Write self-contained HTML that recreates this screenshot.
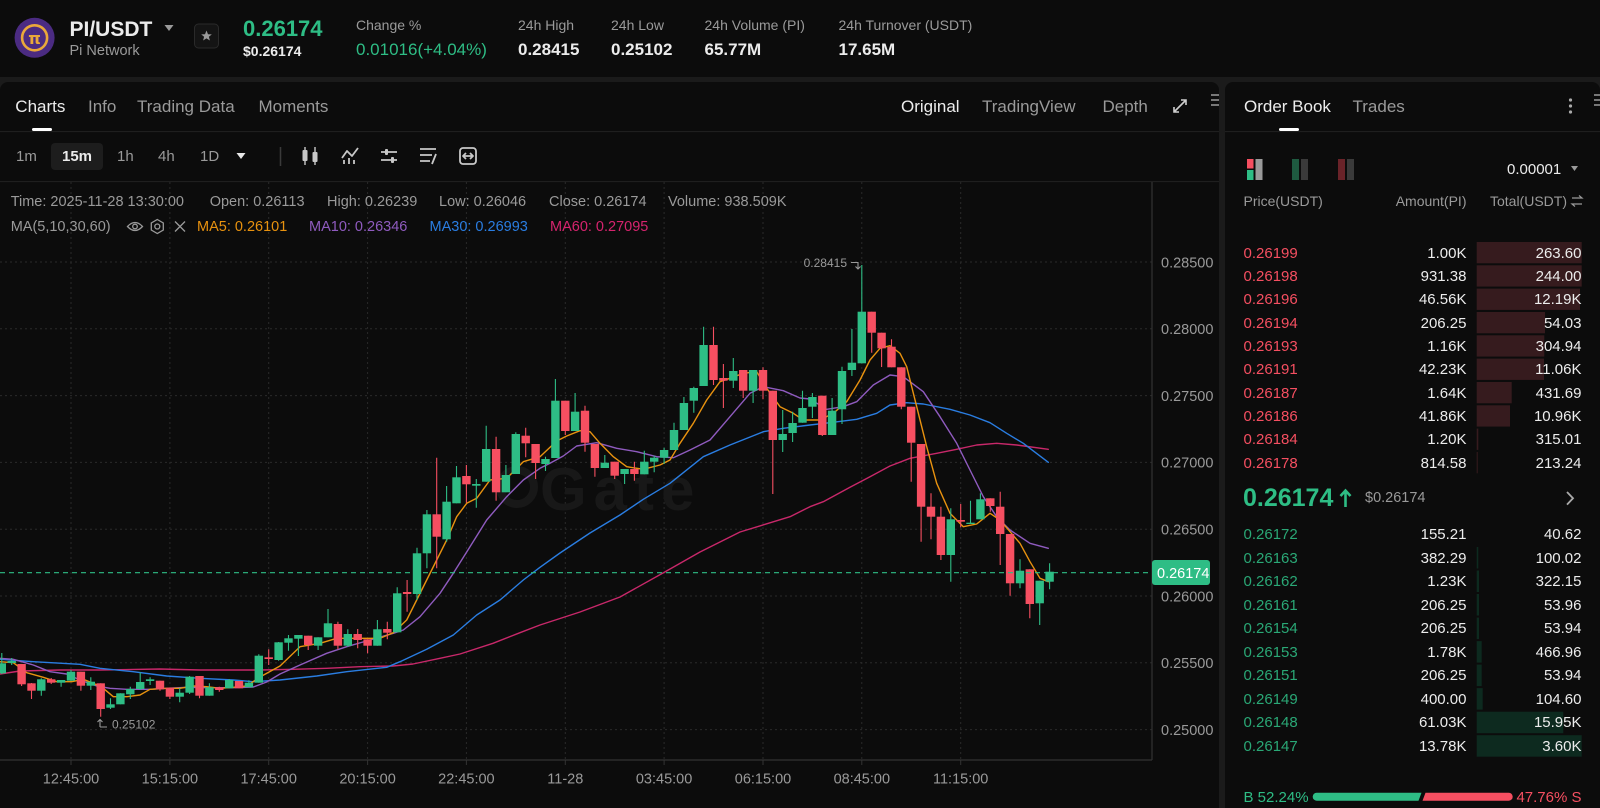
<!DOCTYPE html>
<html><head><meta charset="utf-8">
<style>
*{margin:0;padding:0;box-sizing:border-box}
body{width:1600px;height:808px;background:#1b1b1b;overflow:hidden;position:relative;font-family:"Liberation Sans",sans-serif;color:#e8e8e8}
.p{position:absolute;background:#0c0c0c}
.t{position:absolute;white-space:nowrap;line-height:1}
.g{color:#9a9a9a}
.w{color:#ececec}
.gr{color:#2ebd85}
.rd{color:#f64f61}
.b{font-weight:bold}
</style></head><body>
<div class="p" style="left:0;top:0;width:1600px;height:77px"></div>
<div class="p" style="left:0;top:82px;width:1219px;height:726px;border-radius:8px 8px 0 0"></div>
<div class="p" style="left:1225px;top:82px;width:375px;height:726px;border-radius:8px 8px 0 0"></div>

<svg width="1600" height="808" style="position:absolute;left:0;top:0">
<defs><clipPath id="cc"><rect x="0" y="182" width="1152" height="578"/></clipPath></defs>
<circle cx="34.6" cy="37.8" r="20" fill="#4b2b82"/>
<circle cx="34.6" cy="37.8" r="12.5" fill="none" stroke="#eaa83a" stroke-width="2.6"/>
<text x="34.6" y="44" text-anchor="middle" font-family="DejaVu Sans,sans-serif" font-weight="bold" font-size="16" fill="#eaa83a">π</text>
<path d="M164.5 25 L173.5 25 L169 31 Z" fill="#9a9a9a"/>
<rect x="194.5" y="24" width="24" height="24" rx="4" fill="#141414" stroke="#2a2a2a"/>
<path d="M206.5 30.5 L208 34.2 L211.8 34.4 L208.9 36.8 L209.9 40.5 L206.5 38.4 L203.1 40.5 L204.1 36.8 L201.2 34.4 L205 34.2 Z" fill="#9a9a9a"/>
<line x1="0" y1="131.6" x2="1219" y2="131.6" stroke="#222" stroke-width="1"/>
<line x1="1225" y1="131.6" x2="1600" y2="131.6" stroke="#222" stroke-width="1"/>
<line x1="0" y1="181.6" x2="1219" y2="181.6" stroke="#222" stroke-width="1"/>
<rect x="32" y="128" width="20" height="3" rx="1.5" fill="#fff"/>
<rect x="1279" y="128" width="20" height="3" rx="1.5" fill="#fff"/>
<g stroke="#cfcfcf" stroke-width="1.6" fill="none">
<path d="M1174 112 L1186 100 M1181 100 H1186 V105 M1174 107 V112 H1179"/>
</g>
<g fill="#777"><rect x="1211" y="94" width="8" height="2"/><rect x="1211" y="99" width="8" height="2"/><rect x="1211" y="104" width="8" height="2"/>
<rect x="1594" y="94" width="6" height="2"/><rect x="1594" y="99" width="6" height="2"/><rect x="1594" y="104" width="6" height="2"/></g>
<g fill="#aaa"><circle cx="1570.5" cy="100" r="1.6"/><circle cx="1570.5" cy="106" r="1.6"/><circle cx="1570.5" cy="112" r="1.6"/></g>
<rect x="51" y="143" width="52" height="27" rx="4" fill="#1d1d1d"/>
<path d="M236.5 153 L245.5 153 L241 159 Z" fill="#e8e8e8"/>
<line x1="280.5" y1="147" x2="280.5" y2="166" stroke="#3a3a3a" stroke-width="1.5"/>
<g fill="#c8c8c8" stroke="#c8c8c8">
<line x1="305" y1="147" x2="305" y2="165" stroke-width="1.4"/><rect x="302.5" y="150" width="5" height="11" rx="1" stroke="none"/>
<line x1="315" y1="147" x2="315" y2="165" stroke-width="1.4"/><rect x="312.5" y="152" width="5" height="10" rx="1" stroke="none"/>
</g>
<g stroke="#c8c8c8" stroke-width="1.8" fill="none" stroke-linejoin="round">
<path d="M342 158 L347 151 L352 156 L358 148"/>
<path d="M344 164 V160 M349 164 V158 M354 164 V160"/>
<path d="M381 152 H397 M381 160 H397"/>
<path d="M420 149 H436 M420 155 H432 M420 161 H430 M436 154 L432 164"/>
<rect x="460" y="148" width="16" height="16" rx="3"/>
<path d="M464 156 H472 M466 153 L463 156 L466 159 M470 153 L473 156 L470 159"/>
</g>
<g fill="#c8c8c8"><rect x="385" y="149" width="3" height="6" rx="1"/><rect x="391" y="157" width="3" height="6" rx="1"/></g>
<g stroke="#9a9a9a" stroke-width="1.3" fill="none">
<path d="M127.5 226.5 Q135 218.5 142.5 226.5 Q135 234.5 127.5 226.5 Z"/><circle cx="135" cy="226.5" r="2.3"/>
<path d="M157.3 219.5 L163.3 223 L163.3 230 L157.3 233.5 L151.3 230 L151.3 223 Z"/><circle cx="157.3" cy="226.5" r="2.5"/>
<path d="M175 221.5 L185 231.5 M185 221.5 L175 231.5"/>
</g>

<g stroke="#2a2a2a" stroke-width="1" stroke-dasharray="2 3">
<line x1="0" y1="262" x2="1152" y2="262"/><line x1="0" y1="328.8" x2="1152" y2="328.8"/>
<line x1="0" y1="395.6" x2="1152" y2="395.6"/><line x1="0" y1="462.4" x2="1152" y2="462.4"/>
<line x1="0" y1="529.2" x2="1152" y2="529.2"/><line x1="0" y1="596" x2="1152" y2="596"/>
<line x1="0" y1="662.8" x2="1152" y2="662.8"/><line x1="0" y1="729.6" x2="1152" y2="729.6"/>
<line x1="71" y1="182" x2="71" y2="760"/><line x1="169.9" y1="182" x2="169.9" y2="760"/>
<line x1="268.7" y1="182" x2="268.7" y2="760"/><line x1="367.6" y1="182" x2="367.6" y2="760"/>
<line x1="466.4" y1="182" x2="466.4" y2="760"/><line x1="565.3" y1="182" x2="565.3" y2="760"/>
<line x1="664.1" y1="182" x2="664.1" y2="760"/><line x1="763" y1="182" x2="763" y2="760"/>
<line x1="861.8" y1="182" x2="861.8" y2="760"/><line x1="960.7" y1="182" x2="960.7" y2="760"/>
</g>
<line x1="1152" y1="182" x2="1152" y2="760" stroke="#333" stroke-width="1.2"/>
<line x1="0" y1="760" x2="1152" y2="760" stroke="#333" stroke-width="1.2"/>
<g stroke="#333" stroke-width="1">
<line x1="71" y1="760" x2="71" y2="765"/><line x1="169.9" y1="760" x2="169.9" y2="765"/><line x1="268.7" y1="760" x2="268.7" y2="765"/><line x1="367.6" y1="760" x2="367.6" y2="765"/><line x1="466.4" y1="760" x2="466.4" y2="765"/><line x1="565.3" y1="760" x2="565.3" y2="765"/><line x1="664.1" y1="760" x2="664.1" y2="765"/><line x1="763" y1="760" x2="763" y2="765"/><line x1="861.8" y1="760" x2="861.8" y2="765"/><line x1="960.7" y1="760" x2="960.7" y2="765"/>
</g>
<circle cx="517" cy="487" r="17" fill="none" stroke="#181818" stroke-width="8"/>
<text x="540" y="510" font-family="Liberation Sans,sans-serif" font-weight="bold" font-size="60" letter-spacing="7" fill="#181818">Gate</text>

<g clip-path="url(#cc)">
<g fill="none" stroke-width="1.4" stroke-linejoin="round" stroke-linecap="round">
<polyline stroke="#c8286a" points="0,674 20,671 60,670 100,670 160,669 200,670 260,670 293,669.3 326.7,668.3 360,666.7 393,666 413,664 440,658.3 460,654 493,643.3 520,632.7 540,625 580,612 620,597 663,573 700,552 740,532 790,516.7 810,506.7 823.3,501.7 850,487.3 870,476.7 890,466 910,458.3 936.7,453.3 956.7,449.3 976.7,445 996.7,443.3 1016.7,445 1048.3,449.3"/>
<polyline stroke="#2a7de1" points="0,659.3 33.3,661.7 80,664.3 100,668.3 133.3,671.7 166.7,676 200,678.3 233.3,680 253.3,681.7 280,680 316.7,676 346.7,671.7 386.7,667.3 400,661.7 426.7,649.3 453.3,635 476.7,615 500,600 523.3,580 540,567.3 560,553 590,533 620,515 643.3,499.3 670,483.3 703.3,456.7 730,445 763.3,431.7 783.3,428.3 810,425 830,422.7 856.7,419.3 876.7,413.3 890,405 906.7,402.7 923.3,404 950,409.3 970,415 990,422.7 1006.7,433.3 1023.3,443.3 1048.3,462.3"/>
<polyline stroke="#8f5bbf" points="0,658.3 13.3,659.3 33.3,665 50,671.7 66.7,674 80,680 96.7,686 110,688.3 126.7,689.3 150,689.3 166.7,688.3 186.7,687.3 206.7,687.7 233.3,687.7 253.3,687 266.7,682 280,674 300,665 326.7,653.3 346.7,646.7 370,640 393.3,633.3 403.3,630 420,616.7 440,593.3 453.3,573.3 470,546.7 486.7,520 506.7,496.7 523.3,480 540,468.3 550,463.3 563.3,456 576.7,446 596.7,442.7 616.7,448.3 636.7,451.7 656.7,456.7 673.3,457.7 690,450 710,440 730,416.7 750,393.3 763.3,386.7 783.3,390.7 800,398 810,399 826.7,409.3 843.3,406.7 856.7,401.7 873.3,385 890,375 903.3,376.7 923.3,391.7 940,416.7 956.7,443.3 970,470 983.3,496.7 996.7,516.7 1010,530 1030,543.3 1048.3,548.3"/>
<polyline stroke="#e8920f" points="0,661.7 13.3,662.7 26.7,672.7 43.3,677.3 56.7,681.7 71.7,681.7 83.3,679.3 93.3,683.3 103.3,688.3 113.3,696.7 126.7,696.7 140,695 150,689.3 166.7,688.3 180,688.3 193.3,686 206.7,686.7 220,688.3 233.3,687.3 246.7,686 260,677 280,666 300,646.7 320,643.3 336.7,638.3 360,638.3 380,638.3 393.3,632.7 406.7,620 416.7,600 426.7,580 436.7,560 446.7,540 456.7,516.7 466.7,503.3 476.7,498.3 490,480 506.7,478.3 523.3,461.7 540,456.7 556.7,441 566.7,436 580,430.7 590,431.7 600,443.3 613.3,456.7 626.7,466.7 643.3,469.3 660,465 670,460 680,443.3 693.3,423.3 706.7,400 720,381.7 730,378.3 743.3,373.3 756.7,371.7 766.7,388.3 780,406.7 793.3,413.3 803.3,420 820,420 833.3,413.3 846.7,401.7 860,380 870,360 880,348.3 890,345.7 900,353.3 906.7,366.7 916.7,406.7 926.7,446.7 936.7,483.3 950,513.3 963.3,526.7 976.7,524 990,513.3 1000,520 1010,531.7 1020,543.3 1030,561.7 1040,578.3 1048.3,581.7"/>
</g>
<path stroke="#2ebd85" stroke-width="1.1" fill="none" d="M1.8 653V674M11.7 658V665M41.3 678.3V695.7M61.1 680V686.7M71 670V681M90.8 677.3V690M110.5 698.3V709M120.4 693.3V704.3M130.3 686.7V699M140.2 672.3V690M150.1 677.3V685M179.7 688.3V702.3M189.6 676V694M209.4 683.3V695.7M229.2 679V688.3M248.9 680.3V687.3M258.8 654.3V682.7M278.6 642V660.7M288.5 635V650.7M298.4 635V656M318.1 637.3V650M328 609V637.3M347.8 629.3V646.7M377.4 620V645.7M397.2 587.3V632.3M417 547.7V600M426.9 510V568.3M446.6 486V541.7M456.5 466V503.3M476.3 479V507.7M486.2 425.7V481.7M505.9 465V492.3M515.8 432.3V474M545.5 456.7V471M555.4 379V458M575.1 393V431M604.8 455V468M624.6 469V484M644.3 450.7V474.3M654.2 455.7V472.3M664.1 447.7V464M674 422.7V450M683.9 397V430M693.8 386.7V412.7M703.6 326.7V386M733.3 358V388M753.1 370V403M782.7 410V452M792.6 411.7V442M802.5 390.7V422.7M812.4 393V418M832.1 398V435M842 366.7V424M851.9 329V376M861.8 265V363.3M950.8 508.3V581.7M970.5 500.7V524M980.4 493.3V519.3M1020 559.3V588.3M1039.7 580.7V625M1049.6 563.3V589.3"/>
<g fill="#2ebd85">
<rect x="-2.4" y="663.3" width="8.4" height="10"/><rect x="7.5" y="661" width="8.4" height="2"/><rect x="37.1" y="679.3" width="8.4" height="11.4"/><rect x="56.9" y="680" width="8.4" height="2.7"/><rect x="66.8" y="671.7" width="8.4" height="9"/><rect x="86.6" y="681.7" width="8.4" height="4"/><rect x="106.3" y="704.3" width="8.4" height="3.4"/><rect x="116.2" y="693.3" width="8.4" height="11"/><rect x="126.1" y="689" width="8.4" height="5.3"/><rect x="136" y="682" width="8.4" height="7"/><rect x="145.9" y="679.3" width="8.4" height="1.7"/><rect x="175.5" y="692.7" width="8.4" height="4"/><rect x="185.4" y="676.7" width="8.4" height="16"/><rect x="205.2" y="687.3" width="8.4" height="8.4"/><rect x="225" y="680" width="8.4" height="8.3"/><rect x="244.7" y="682.7" width="8.4" height="4.6"/><rect x="254.6" y="655.7" width="8.4" height="27"/><rect x="274.4" y="642.3" width="8.4" height="17.7"/><rect x="284.3" y="638.3" width="8.4" height="4.4"/><rect x="294.2" y="635" width="8.4" height="3.7"/><rect x="313.9" y="637.3" width="8.4" height="8.4"/><rect x="323.8" y="623.3" width="8.4" height="14"/><rect x="343.6" y="634" width="8.4" height="11.7"/><rect x="373.2" y="629.3" width="8.4" height="16.4"/><rect x="393" y="593.3" width="8.4" height="39"/><rect x="412.8" y="553.3" width="8.4" height="40.7"/><rect x="422.7" y="514.3" width="8.4" height="39"/><rect x="442.4" y="501.7" width="8.4" height="37.6"/><rect x="452.3" y="477.3" width="8.4" height="26"/><rect x="472.1" y="484" width="8.4" height="1.7"/><rect x="482" y="449" width="8.4" height="32.7"/><rect x="501.7" y="475" width="8.4" height="17.3"/><rect x="511.6" y="434" width="8.4" height="40"/><rect x="541.3" y="459" width="8.4" height="5"/><rect x="551.2" y="400.7" width="8.4" height="57.3"/><rect x="570.9" y="411.7" width="8.4" height="19.3"/><rect x="600.6" y="462.7" width="8.4" height="5.3"/><rect x="620.4" y="469" width="8.4" height="5"/><rect x="640.1" y="461.7" width="8.4" height="12.6"/><rect x="650" y="457.7" width="8.4" height="4"/><rect x="659.9" y="450" width="8.4" height="7.7"/><rect x="669.8" y="430" width="8.4" height="20"/><rect x="679.7" y="403" width="8.4" height="27"/><rect x="689.6" y="388" width="8.4" height="12.7"/><rect x="699.4" y="345" width="8.4" height="41"/><rect x="729.1" y="371" width="8.4" height="9.7"/><rect x="748.9" y="370" width="8.4" height="20.7"/><rect x="778.5" y="434" width="8.4" height="6"/><rect x="788.4" y="423" width="8.4" height="10"/><rect x="798.3" y="408" width="8.4" height="14.7"/><rect x="808.2" y="397" width="8.4" height="9.7"/><rect x="827.9" y="410.7" width="8.4" height="24.3"/><rect x="837.8" y="371" width="8.4" height="38.3"/><rect x="847.7" y="362.7" width="8.4" height="7.3"/><rect x="857.6" y="311.7" width="8.4" height="51.6"/><rect x="946.6" y="519.3" width="8.4" height="35.7"/><rect x="966.3" y="522.7" width="8.4" height="1.3"/><rect x="976.2" y="499.3" width="8.4" height="20"/><rect x="1015.8" y="570.7" width="8.4" height="12.6"/><rect x="1035.5" y="580.7" width="8.4" height="22.6"/><rect x="1045.4" y="571.7" width="8.4" height="10"/>
</g>
<path stroke="#f64f61" stroke-width="1.1" fill="none" d="M21.6 664V686M31.5 683V699M51.2 678V684M80.9 671.7V690.7M100.7 683.3V716.7M160 680.7V690.7M169.9 687.7V699M199.5 676V698.3M219.3 686.7V691.7M239 681V688.3M268.7 649.3V665M308.2 635.7V650M337.9 621.7V649.3M357.7 629V648.3M367.6 639.3V653.3M387.3 621.7V639.3M407.1 580V611.7M436.7 457.7V568.3M466.4 465V502.7M496.1 436.7V500.7M525.7 427.7V457.3M535.6 444V479M565.3 400.7V435M585 405.7V451.7M594.9 444V476.7M614.7 461.7V479M634.4 461.7V480.7M713.5 326.7V385M723.4 364V408M743.2 370V398M763 367.3V399.3M772.8 390.7V494M822.3 395.7V436M871.7 311.7V352.7M881.6 332.7V367M891.5 339.3V367.3M901.3 367.3V409.3M911.2 406.7V481.7M921.1 444V541.7M931 493.3V539.3M940.9 506.7V560M960.7 504V527.3M990.3 498.3V511.7M1000.2 491.7V565M1010.1 534V595.7M1029.8 569.3V618.3"/>
<g fill="#f64f61">
<rect x="17.4" y="664" width="8.4" height="20.3"/><rect x="27.3" y="683.3" width="8.4" height="7.4"/><rect x="47" y="679.3" width="8.4" height="3.4"/><rect x="76.7" y="671.7" width="8.4" height="14"/><rect x="96.5" y="683.3" width="8.4" height="25.7"/><rect x="155.8" y="680.7" width="8.4" height="8.6"/><rect x="165.7" y="687.7" width="8.4" height="9"/><rect x="195.3" y="676" width="8.4" height="19.7"/><rect x="215.1" y="687.3" width="8.4" height="2.7"/><rect x="234.8" y="681" width="8.4" height="7.3"/><rect x="264.5" y="657.3" width="8.4" height="1.7"/><rect x="304" y="635.7" width="8.4" height="9.3"/><rect x="333.7" y="624" width="8.4" height="21.7"/><rect x="353.5" y="634" width="8.4" height="6"/><rect x="363.4" y="639.3" width="8.4" height="6.4"/><rect x="383.1" y="629" width="8.4" height="3.7"/><rect x="402.9" y="592" width="8.4" height="2"/><rect x="432.5" y="514.3" width="8.4" height="22.4"/><rect x="462.2" y="476" width="8.4" height="8.3"/><rect x="491.9" y="449" width="8.4" height="43.3"/><rect x="521.5" y="435.7" width="8.4" height="7.6"/><rect x="531.4" y="444" width="8.4" height="19"/><rect x="561.1" y="400.7" width="8.4" height="30.3"/><rect x="580.8" y="410.7" width="8.4" height="32"/><rect x="590.7" y="444" width="8.4" height="24"/><rect x="610.5" y="461.7" width="8.4" height="14"/><rect x="630.2" y="469" width="8.4" height="5"/><rect x="709.3" y="345" width="8.4" height="35"/><rect x="719.2" y="378" width="8.4" height="2.7"/><rect x="739" y="370" width="8.4" height="20.7"/><rect x="758.8" y="370" width="8.4" height="20.7"/><rect x="768.6" y="390.7" width="8.4" height="49.3"/><rect x="818.1" y="395.7" width="8.4" height="39.3"/><rect x="867.5" y="311.7" width="8.4" height="21"/><rect x="877.4" y="332.7" width="8.4" height="15.6"/><rect x="887.3" y="346.7" width="8.4" height="20.6"/><rect x="897.1" y="367.3" width="8.4" height="39.4"/><rect x="907" y="406.7" width="8.4" height="36"/><rect x="916.9" y="444" width="8.4" height="62.7"/><rect x="926.8" y="506.7" width="8.4" height="10"/><rect x="936.7" y="516.7" width="8.4" height="38.3"/><rect x="956.5" y="520" width="8.4" height="1.7"/><rect x="986.1" y="498.3" width="8.4" height="7.7"/><rect x="996" y="506.7" width="8.4" height="27.3"/><rect x="1005.9" y="534" width="8.4" height="49.3"/><rect x="1025.6" y="569.3" width="8.4" height="34.7"/>
</g>
</g>
<line x1="0" y1="572.7" x2="1152" y2="572.7" stroke="#2ebd85" stroke-width="1.2" stroke-dasharray="5 4"/>
<rect x="1152" y="560" width="58" height="25" rx="3" fill="#2ebd85"/>
<text x="1157" y="578" font-size="14.5" fill="#fff" font-family="Liberation Sans,sans-serif">0.26174</text>
<text x="847" y="267" text-anchor="end" font-size="12" fill="#9a9a9a" font-family="Liberation Sans,sans-serif">0.28415</text>
<path d="M851 262.5 H858 V269 M855.5 266.5 L858 269 L860.5 266.5" stroke="#9a9a9a" stroke-width="1.1" fill="none"/>
<path d="M100 727 V719.5 M97.5 722 L100 719.5 L102.5 722 M100 727 H107" stroke="#9a9a9a" stroke-width="1.1" fill="none"/>
<text x="112" y="728.5" font-size="12" fill="#9a9a9a" font-family="Liberation Sans,sans-serif">0.25102</text>
<g font-size="14.5" fill="#9a9a9a" font-family="Liberation Sans,sans-serif">
<text x="1161" y="267.3">0.28500</text><text x="1161" y="334.1">0.28000</text><text x="1161" y="400.9">0.27500</text><text x="1161" y="467.7">0.27000</text><text x="1161" y="534.5">0.26500</text><text x="1161" y="601.3">0.26000</text><text x="1161" y="668.1">0.25500</text><text x="1161" y="734.9">0.25000</text>
</g>
<g font-size="14.5" fill="#9a9a9a" font-family="Liberation Sans,sans-serif" text-anchor="middle">
<text x="71" y="783.3">12:45:00</text><text x="169.9" y="783.3">15:15:00</text><text x="268.7" y="783.3">17:45:00</text><text x="367.6" y="783.3">20:15:00</text><text x="466.4" y="783.3">22:45:00</text><text x="565.3" y="783.3">11-28</text><text x="664.1" y="783.3">03:45:00</text><text x="763" y="783.3">06:15:00</text><text x="861.8" y="783.3">08:45:00</text><text x="960.7" y="783.3">11:15:00</text>
</g>

<rect x="1247" y="159" width="6.5" height="9.5" fill="#f64f61"/><rect x="1247" y="170" width="6.5" height="10" fill="#2ebd85"/><rect x="1255.5" y="159" width="7" height="21" fill="#9a9a9a"/>
<rect x="1292" y="159" width="7" height="21" fill="#1e5a40"/><rect x="1301" y="159" width="7" height="21" fill="#3a3a3a"/>
<rect x="1338" y="159" width="7" height="21" fill="#6a2329"/><rect x="1347" y="159" width="7" height="21" fill="#3a3a3a"/>
<path d="M1571 166 L1578 166 L1574.5 171 Z" fill="#9a9a9a"/>
<path d="M1572 198 H1582 L1579 195.5 M1582 204 H1572 L1575 206.5" stroke="#9a9a9a" stroke-width="1.2" fill="none"/>
<g fill="#361b1e">
<rect x="1476.7" y="242" width="105" height="21.3"/><rect x="1476.7" y="265.3" width="105" height="21.3"/><rect x="1476.7" y="288.6" width="103.3" height="21.3"/><rect x="1476.7" y="312" width="68.3" height="21.3"/><rect x="1476.7" y="335.3" width="67.6" height="21.3"/><rect x="1476.7" y="358.6" width="67.3" height="21.3"/><rect x="1476.7" y="382" width="35" height="21.3"/><rect x="1476.7" y="405.3" width="33.3" height="21.3"/><rect x="1476.7" y="428.6" width="1.6" height="21.3"/><rect x="1476.7" y="452" width="1" height="21.3"/>
</g>
<g fill="#0d2a1f">
<rect x="1476.7" y="547" width="1.6" height="21.5"/><rect x="1476.7" y="570.5" width="2.3" height="21.5"/><rect x="1476.7" y="594" width="2.3" height="21.5"/><rect x="1476.7" y="617.6" width="2.3" height="21.5"/><rect x="1476.7" y="641.1" width="5" height="21.5"/><rect x="1476.7" y="664.6" width="5" height="21.5"/><rect x="1476.7" y="688.1" width="6" height="21.5"/><rect x="1476.7" y="711.7" width="86.6" height="21.5"/><rect x="1476.7" y="735.2" width="105" height="21.5"/>
</g>
<path d="M1345.5 507 V491 M1340.5 496 L1345.5 490.5 L1350.5 496" stroke="#2ebd85" stroke-width="2.6" fill="none"/>
<path d="M1567 492 L1573 498.3 L1567 504.6" stroke="#aaa" stroke-width="1.8" fill="none"/>
<path d="M1316.7 792.7 H1421.5 L1418.5 800.7 H1316.7 A4 4 0 0 1 1316.7 792.7 Z" fill="#2ebd85"/>
<path d="M1425.5 792.7 H1508.7 A4 4 0 0 1 1508.7 800.7 H1422.5 Z" fill="#f64f61"/>
</svg>

<div class="t w b" style="left:69.5px;top:18.5px;font-size:21px">PI/USDT</div>
<div class="t g" style="left:69.5px;top:44px;font-size:14.5px">Pi Network</div>
<div class="t gr b" style="left:243px;top:18px;font-size:22px">0.26174</div>
<div class="t w b" style="left:243px;top:44.3px;font-size:14px">$0.26174</div>
<div class="t g" style="left:356px;top:17.8px;font-size:14px">Change %</div>
<div class="t gr" style="left:356px;top:40.8px;font-size:17px">0.01016(+4.04%)</div>
<div class="t g" style="left:518px;top:17.8px;font-size:14px">24h High</div>
<div class="t w b" style="left:518px;top:40.8px;font-size:17px">0.28415</div>
<div class="t g" style="left:611px;top:17.8px;font-size:14px">24h Low</div>
<div class="t w b" style="left:611px;top:40.8px;font-size:17px">0.25102</div>
<div class="t g" style="left:704.5px;top:17.8px;font-size:14px">24h Volume (PI)</div>
<div class="t w b" style="left:704.5px;top:40.8px;font-size:17px">65.77M</div>
<div class="t g" style="left:838.5px;top:17.8px;font-size:14px">24h Turnover (USDT)</div>
<div class="t w b" style="left:838.5px;top:40.8px;font-size:17px">17.65M</div>

<div class="t w" style="left:15.3px;top:97.8px;font-size:17px">Charts</div>
<div class="t g" style="left:88px;top:97.8px;font-size:17px">Info</div>
<div class="t g" style="left:137px;top:97.8px;font-size:17px">Trading Data</div>
<div class="t g" style="left:258.5px;top:97.8px;font-size:17px">Moments</div>
<div class="t w" style="left:901px;top:97.8px;font-size:17px">Original</div>
<div class="t g" style="left:982px;top:97.8px;font-size:17px">TradingView</div>
<div class="t g" style="left:1102.5px;top:97.8px;font-size:17px">Depth</div>

<div class="t g" style="left:16px;top:148.8px;font-size:15px">1m</div>
<div class="t w b" style="left:62px;top:148.8px;font-size:15px">15m</div>
<div class="t g" style="left:117px;top:148.8px;font-size:15px">1h</div>
<div class="t g" style="left:158px;top:148.8px;font-size:15px">4h</div>
<div class="t g" style="left:200px;top:148.8px;font-size:15px">1D</div>

<div class="t g" style="left:10.7px;top:195px;font-size:14.5px">Time: 2025-11-28 13:30:00</div>
<div class="t g" style="left:209.7px;top:195px;font-size:14.5px">Open: 0.26113</div>
<div class="t g" style="left:327px;top:195px;font-size:14.5px">High: 0.26239</div>
<div class="t g" style="left:439px;top:195px;font-size:14.5px">Low: 0.26046</div>
<div class="t g" style="left:549px;top:195px;font-size:14.5px">Close: 0.26174</div>
<div class="t g" style="left:668px;top:195px;font-size:14.5px">Volume: 938.509K</div>
<div class="t g" style="left:10.7px;top:219.5px;font-size:14.5px">MA(5,10,30,60)</div>
<div class="t" style="left:197px;top:219.5px;font-size:14.5px;color:#e8920f">MA5: 0.26101</div>
<div class="t" style="left:309px;top:219.5px;font-size:14.5px;color:#8f5bbf">MA10: 0.26346</div>
<div class="t" style="left:429.5px;top:219.5px;font-size:14.5px;color:#2a7de1">MA30: 0.26993</div>
<div class="t" style="left:550px;top:219.5px;font-size:14.5px;color:#d6246e">MA60: 0.27095</div>

<div class="t w" style="left:1244px;top:97.8px;font-size:17px">Order Book</div>
<div class="t g" style="left:1352.5px;top:97.8px;font-size:17px">Trades</div>
<div class="t w" style="left:1507px;top:161.8px;font-size:15px">0.00001</div>
<div class="t g" style="left:1243.5px;top:194.3px;font-size:14px">Price(USDT)</div>
<div class="t g" style="right:133.5px;top:194.3px;font-size:14px">Amount(PI)</div>
<div class="t g" style="right:33px;top:194.3px;font-size:14px">Total(USDT)</div>

<div style="position:absolute;left:0;top:0;width:1600px;height:808px;font-size:15px">
<div class="t rd" style="left:1243.5px;top:245.5px">0.26199</div><div class="t w" style="right:133.5px;top:245.5px">1.00K</div><div class="t w" style="right:18.5px;top:245.5px">263.60</div>
<div class="t rd" style="left:1243.5px;top:268.8px">0.26198</div><div class="t w" style="right:133.5px;top:268.8px">931.38</div><div class="t w" style="right:18.5px;top:268.8px">244.00</div>
<div class="t rd" style="left:1243.5px;top:292.1px">0.26196</div><div class="t w" style="right:133.5px;top:292.1px">46.56K</div><div class="t w" style="right:18.5px;top:292.1px">12.19K</div>
<div class="t rd" style="left:1243.5px;top:315.5px">0.26194</div><div class="t w" style="right:133.5px;top:315.5px">206.25</div><div class="t w" style="right:18.5px;top:315.5px">54.03</div>
<div class="t rd" style="left:1243.5px;top:338.8px">0.26193</div><div class="t w" style="right:133.5px;top:338.8px">1.16K</div><div class="t w" style="right:18.5px;top:338.8px">304.94</div>
<div class="t rd" style="left:1243.5px;top:362.1px">0.26191</div><div class="t w" style="right:133.5px;top:362.1px">42.23K</div><div class="t w" style="right:18.5px;top:362.1px">11.06K</div>
<div class="t rd" style="left:1243.5px;top:385.5px">0.26187</div><div class="t w" style="right:133.5px;top:385.5px">1.64K</div><div class="t w" style="right:18.5px;top:385.5px">431.69</div>
<div class="t rd" style="left:1243.5px;top:408.8px">0.26186</div><div class="t w" style="right:133.5px;top:408.8px">41.86K</div><div class="t w" style="right:18.5px;top:408.8px">10.96K</div>
<div class="t rd" style="left:1243.5px;top:432.1px">0.26184</div><div class="t w" style="right:133.5px;top:432.1px">1.20K</div><div class="t w" style="right:18.5px;top:432.1px">315.01</div>
<div class="t rd" style="left:1243.5px;top:455.5px">0.26178</div><div class="t w" style="right:133.5px;top:455.5px">814.58</div><div class="t w" style="right:18.5px;top:455.5px">213.24</div>

<div class="t" style="color:#2aa876;left:1243.5px;top:527.1px">0.26172</div><div class="t w" style="right:133.5px;top:527.1px">155.21</div><div class="t w" style="right:18.5px;top:527.1px">40.62</div>
<div class="t" style="color:#2aa876;left:1243.5px;top:550.6px">0.26163</div><div class="t w" style="right:133.5px;top:550.6px">382.29</div><div class="t w" style="right:18.5px;top:550.6px">100.02</div>
<div class="t" style="color:#2aa876;left:1243.5px;top:574.1px">0.26162</div><div class="t w" style="right:133.5px;top:574.1px">1.23K</div><div class="t w" style="right:18.5px;top:574.1px">322.15</div>
<div class="t" style="color:#2aa876;left:1243.5px;top:597.7px">0.26161</div><div class="t w" style="right:133.5px;top:597.7px">206.25</div><div class="t w" style="right:18.5px;top:597.7px">53.96</div>
<div class="t" style="color:#2aa876;left:1243.5px;top:621.2px">0.26154</div><div class="t w" style="right:133.5px;top:621.2px">206.25</div><div class="t w" style="right:18.5px;top:621.2px">53.94</div>
<div class="t" style="color:#2aa876;left:1243.5px;top:644.7px">0.26153</div><div class="t w" style="right:133.5px;top:644.7px">1.78K</div><div class="t w" style="right:18.5px;top:644.7px">466.96</div>
<div class="t" style="color:#2aa876;left:1243.5px;top:668.2px">0.26151</div><div class="t w" style="right:133.5px;top:668.2px">206.25</div><div class="t w" style="right:18.5px;top:668.2px">53.94</div>
<div class="t" style="color:#2aa876;left:1243.5px;top:691.7px">0.26149</div><div class="t w" style="right:133.5px;top:691.7px">400.00</div><div class="t w" style="right:18.5px;top:691.7px">104.60</div>
<div class="t" style="color:#2aa876;left:1243.5px;top:715.3px">0.26148</div><div class="t w" style="right:133.5px;top:715.3px">61.03K</div><div class="t w" style="right:18.5px;top:715.3px">15.95K</div>
<div class="t" style="color:#2aa876;left:1243.5px;top:738.8px">0.26147</div><div class="t w" style="right:133.5px;top:738.8px">13.78K</div><div class="t w" style="right:18.5px;top:738.8px">3.60K</div>
</div>

<div class="t gr b" style="left:1243px;top:486.3px;font-size:25px">0.26174</div>
<div class="t g" style="left:1365px;top:491.3px;font-size:14.5px">$0.26174</div>

<div class="t gr" style="left:1243.5px;top:789.5px;font-size:15px">B 52.24%</div>
<div class="t rd" style="right:18.5px;top:789.5px;font-size:15px">47.76% S</div>
</body></html>
